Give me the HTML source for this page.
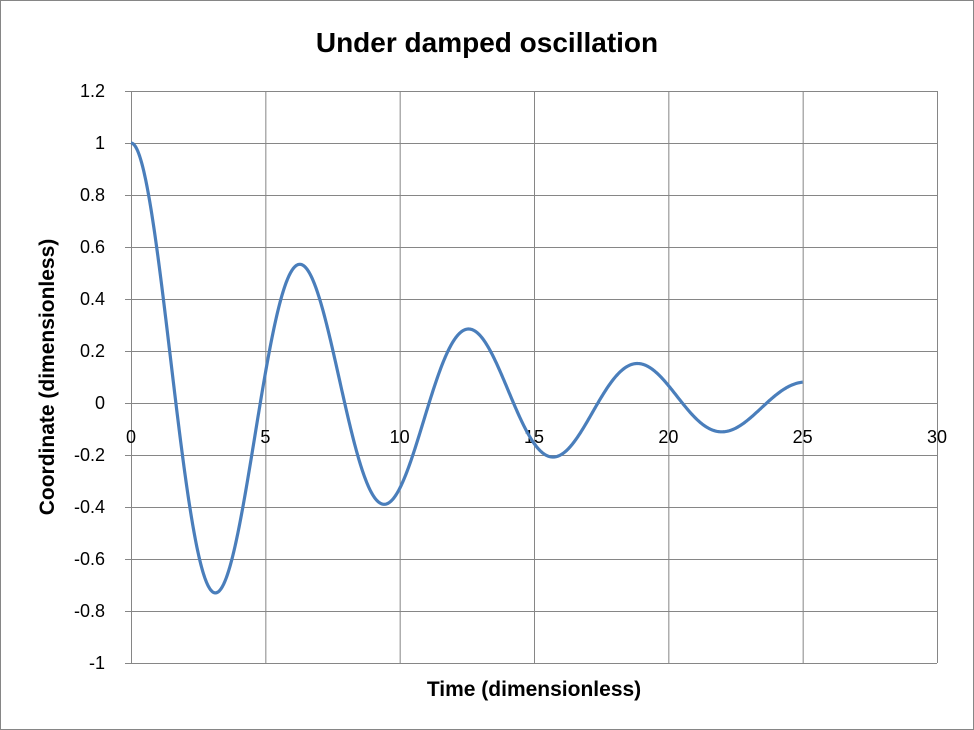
<!DOCTYPE html>
<html><head><meta charset="utf-8"><style>
html,body{margin:0;padding:0;background:#fff;}
svg{display:block;font-family:"Liberation Sans",Arial,sans-serif;}
</style></head><body>
<svg id="s" width="974" height="730" viewBox="0 0 974 730">
<rect x="0.5" y="0.5" width="973" height="729" fill="#fff" stroke="#868686"/>
<g id="grid" stroke="#868686" stroke-width="1"></g>
<g id="labels" font-size="18" fill="#000"></g>
<path id="curve" fill="none" stroke="#4a7ebb" stroke-width="3.2" stroke-linejoin="round"/>
<text x="487" y="52" text-anchor="middle" font-size="28" font-weight="bold">Under damped oscillation</text>
<text x="534" y="696" text-anchor="middle" font-size="21" font-weight="bold">Time (dimensionless)</text>
<text transform="translate(54,377) rotate(-90)" text-anchor="middle" font-size="21" font-weight="bold">Coordinate (dimensionless)</text>
</svg>
<script>
var X0=131,XS=(937-131)/30,Y0=403,YS=52/0.2;
var g=document.getElementById('grid'),L=document.getElementById('labels'),ns='http://www.w3.org/2000/svg';
function el(t,a,p){var e=document.createElementNS(ns,t);for(var k in a)e.setAttribute(k,a[k]);p.appendChild(e);return e;}
for(var i=0;i<=6;i++){var x=X0+i*5*XS+0.5;el('line',{x1:x,y1:91,x2:x,y2:663},g);
 var t=el('text',{x:X0+i*5*XS,y:Y0+40,'text-anchor':'middle'},L);t.textContent=i*5;}
for(var j=-5;j<=6;j++){var y=Y0-j*52+0.5;el('line',{x1:125,y1:y,x2:937,y2:y},g);
 var v=(j*0.2).toFixed(1).replace(/\.0$/,'');if(v=='-0')v='0';
 var t=el('text',{x:105,y:Y0-j*52+6,'text-anchor':'end'},L);t.textContent=v;}
var d='';for(var k=0;k<=1000;k++){var tt=25*k/1000;var yv=Math.exp(-0.1*tt)*(Math.cos(tt)+0.1*Math.sin(tt));
 d+=(k?'L':'M')+(X0+tt*XS).toFixed(2)+','+(Y0-yv*YS).toFixed(2);}
document.getElementById('curve').setAttribute('d',d);
</script>
</body></html>
